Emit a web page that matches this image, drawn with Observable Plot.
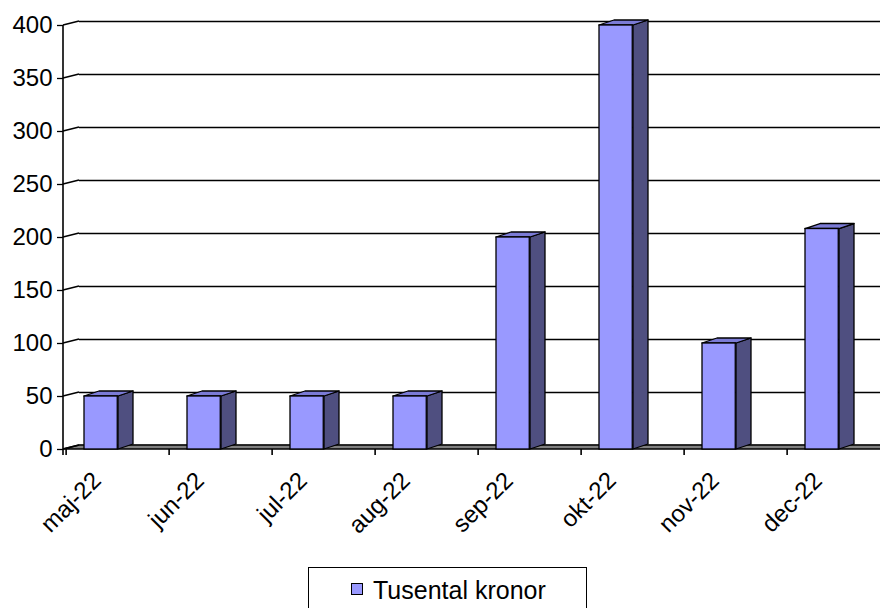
<!DOCTYPE html>
<html>
<head>
<meta charset="utf-8">
<script src="https://cdn.jsdelivr.net/npm/d3@7"></script>
<script src="https://cdn.jsdelivr.net/npm/@observablehq/plot@0.6"></script>
<style>
  html, body { margin: 0; padding: 0; background: white; overflow: hidden; }
  #chart svg { display: block; }
  .legend {
    position: relative; left: 308px; top: 7px; width: 279px; height: 60px;
    border: 1px solid black; box-sizing: border-box;
    font-family: "Liberation Sans", Arial, sans-serif; font-size: 25px; color: black;
  }
  .legend .sw {
    position: absolute; left: 42px; top: 15px; width: 12px; height: 12px;
    background: #9999ff; border: 1px solid black; box-sizing: border-box;
  }
  .legend .lb { position: absolute; left: 64px; top: 8px; line-height: 28px; white-space: nowrap; }
</style>
</head>
<body>
<div id="chart"></div>
<script>
const months = ["maj-22", "jun-22", "jul-22", "aug-22", "sep-22", "okt-22", "nov-22", "dec-22"];
const values = [50, 50, 50, 50, 200, 400, 100, 208];
const yTicks = [0, 50, 100, 150, 200, 250, 300, 350, 400];
const seriesName = "Tusental kronor";

const data = months.map((m, i) => ({month: m, value: values[i]}));

const FONT = "'Liberation Sans', Arial, sans-serif";
const WALL_DX = 16, WALL_DY = -4;   // depth of back wall
const BAR_DX = 15, BAR_DY = -5;     // depth of bars
const INSET_L = 18, BAR_W = 34;
const FRONT = "#9999ff", SIDE = "#4f4f80", TOP = "#7b7bd6", FLOOR = "#808080";

function walls(index, scales) {
  const {x, y} = scales;
  const [xa, xb] = x.range();
  const g = d3.create("svg:g");
  const y0 = y(0);
  g.append("path")
    .attr("d", `M${xa},${y0}L${xa + WALL_DX},${y0 + WALL_DY}L${xb + 40},${y0 + WALL_DY}L${xb + 40},${y0}Z`)
    .attr("fill", FLOOR).attr("stroke", "black").attr("stroke-width", 1.3);
  for (const v of yTicks) {
    g.append("line")
      .attr("x1", xa).attr("y1", y(v)).attr("x2", xa + WALL_DX).attr("y2", y(v) + WALL_DY)
      .attr("stroke", "black").attr("stroke-width", 1.3);
  }
  g.append("line").attr("x1", xa).attr("x2", xa).attr("y1", y(0) + 6).attr("y2", y(400))
    .attr("stroke", "black").attr("stroke-width", 1.6);
  return g.node();
}

function faces(index, scales) {
  const {x, y} = scales;
  const g = d3.create("svg:g").attr("stroke", "black").attr("stroke-width", 1.3).attr("stroke-linejoin", "round");
  for (const i of index) {
    const d = data[i];
    const x0 = x(d.month) + INSET_L, x1 = x0 + BAR_W;
    const yt = y(d.value), yb = y(0);
    g.append("path")
      .attr("d", `M${x1},${yb}L${x1},${yt}L${x1 + BAR_DX},${yt + BAR_DY}L${x1 + BAR_DX},${yb + BAR_DY}Z`)
      .attr("fill", SIDE);
    g.append("path")
      .attr("d", `M${x0},${yt}L${x0 + BAR_DX},${yt + BAR_DY}L${x1 + BAR_DX},${yt + BAR_DY}L${x1},${yt}Z`)
      .attr("fill", TOP);
  }
  return g.node();
}

const step = (893 - 63) / months.length;

const chart = Plot.plot({
  width: 880,
  height: 560,
  marginLeft: 63,
  marginRight: 0,
  marginTop: 25,
  marginBottom: 111,
  style: {fontFamily: FONT, fontSize: "24px", color: "black", background: "white"},
  x: {domain: months, range: [63, 893], padding: 0},
  y: {domain: [0, 400]},
  marks: [
    Plot.ruleY(yTicks, {y: d => d, dx: WALL_DX, dy: WALL_DY, stroke: "black", strokeWidth: 1.3}),
    Plot.barY(data, {x: "month", y: "value", render: walls}),
    Plot.barY(data, {x: "month", y: "value", render: faces}),
    Plot.barY(data, {x: "month", y: "value", fill: FRONT, stroke: "black", strokeWidth: 1.3,
      insetLeft: INSET_L, insetRight: step - INSET_L - BAR_W}),
    Plot.axisY({ticks: yTicks, tickSize: 6, tickPadding: 5, fontSize: 24, label: null, strokeWidth: 1.3}),
    Plot.axisX({tickSize: 6, tickFormat: () => "", dx: -step / 2, label: null, strokeWidth: 1.6}),
    Plot.axisX({tickSize: 0, tickRotate: -45, tickPadding: 27, dx: -21, fontSize: 24, label: null})
  ]
});

document.getElementById("chart").appendChild(chart);

const legend = document.createElement("div");
legend.className = "legend";
legend.innerHTML = `<div class="sw"></div><div class="lb"></div>`;
legend.querySelector(".lb").textContent = seriesName;
document.body.appendChild(legend);
</script>
</body>
</html>
